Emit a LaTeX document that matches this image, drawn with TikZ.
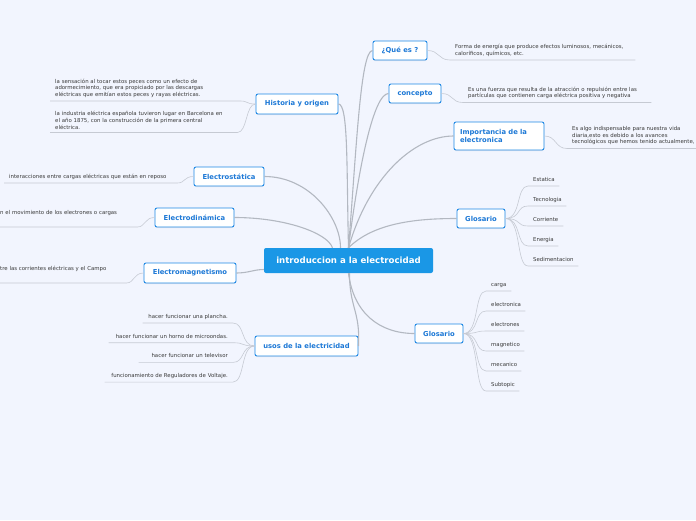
\documentclass[tikz,border=0pt]{standalone}
\usepackage{fontspec}
\setmainfont{DejaVu Sans}
\usetikzlibrary{positioning,shadows}
\definecolor{paper}{HTML}{F2F5FE}
\definecolor{rootblue}{HTML}{1A97E6}
\definecolor{topicblue}{HTML}{1E88E5}
\definecolor{topictext}{HTML}{1C78D6}
\definecolor{leafgray}{HTML}{3A3A3A}
\definecolor{branchgray}{HTML}{B3B8C1}
\definecolor{twiggray}{HTML}{C6CAD3}

\begin{document}
\begin{tikzpicture}[x=1pt, y=-1pt,
  central/.style={fill=rootblue, rounded corners=2pt, text=white,
                  font=\fontsize{8.6}{10}\selectfont\bfseries,
                  minimum width=169pt, minimum height=25pt},
  topic/.style={fill=white, draw=topicblue, line width=0.9pt, rounded corners=2pt,
                text=topictext, font=\fontsize{6.8}{8.2}\selectfont\bfseries,
                minimum height=19pt, inner xsep=6pt,
                drop shadow={opacity=0.12, shadow xshift=0pt, shadow yshift=-1pt}},
  leaf/.style={font=\fontsize{5.4}{6.6}\selectfont, text=leafgray,
               inner xsep=5pt, inner ysep=3.2pt, align=left},
  term/.style={leaf, text height=4.1pt, text depth=1.3pt},
  cutleaf/.style={leaf, text depth=8.8pt},
  branch/.style={draw=branchgray, line width=1.1pt},
  twig/.style={draw=twiggray, line width=0.6pt}
]

\fill[paper] (0,0) rectangle (696,520);
\useasboundingbox (0,0) rectangle (696,520);

% centre and main topics
\node[central] (root) at (348.5,260.5) {introduccion a la electrocidad};

\node[topic, minimum width=54pt] (que) at (400,50.5) {¿Qué es ?};
\node[topic, minimum width=52pt] (concepto) at (415,93.5) {concepto};
\node[topic, text width=78pt, minimum height=28pt, align=left] (importancia) at (499,136) {Importancia de la\\electronica};
\node[topic, minimum width=48pt] (glosarioA) at (481,218.5) {Glosario};
\node[topic, minimum width=48pt] (glosarioB) at (439,333.5) {Glosario};
\node[topic, minimum width=82pt, minimum height=20pt] (historia) at (297,104) {Historia y origen};
\node[topic, minimum width=70pt] (estatica) at (229,176.5) {Electrostática};
\node[topic, minimum width=79pt] (dinamica) at (194.5,217.5) {Electrodinámica};
\node[topic, minimum width=92pt, minimum height=20pt] (magnetismo) at (190,273) {Electromagnetismo};
\node[topic, minimum width=103pt, minimum height=20pt] (usos) at (306.5,346) {usos de la electricidad};

% leaves
\node[leaf, text width=175pt, anchor=south west] (queL) at (450,60)
  {Forma de energía que produce efectos luminosos, mecánicos,\\caloríficos, químicos, etc.};
\node[leaf, text width=178pt, anchor=south west] (conceptoL) at (463,102.5)
  {Es una fuerza que resulta de la atracción o repulsión entre las\\partículas que contienen carga eléctrica positiva y negativa};
\node[leaf, text width=128pt, anchor=south west] (importanciaL) at (567,148.5)
  {Es algo indispensable para nuestra vida\\diaria,esto es debido a los avances\\tecnológicos que hemos tenido actualmente,};
\node[leaf, text width=180pt, anchor=south west] (historiaA) at (50,101)
  {la sensación al tocar estos peces como un efecto de\\adormecimiento, que era propiciado por las descargas\\eléctricas que emitían estos peces y rayas eléctricas.};
\node[leaf, text width=177pt, anchor=south west] (historiaB) at (50,132.5)
  {la industria eléctrica española tuvieron lugar en Barcelona en\\el año 1875, con la construcción de la primera central\\eléctrica.};
\node[leaf, text width=163pt, anchor=south west] (estaticaL) at (4,183)
  {interacciones entre cargas eléctricas que están en reposo};
\node[cutleaf, text width=132pt, anchor=south west] (dinamicaL) at (-5,227)
  {n el movimiento de los electrones o cargas};
\node[cutleaf, text width=121pt, anchor=south west] (magnetismoL) at (-5,283)
  {tre las corrientes eléctricas y el Campo};

% glossary terms
\node[term, text width=21pt, anchor=south west] (estaticaT) at (528,186) {Estatica};
\node[term, text width=28pt, below=7.8pt of estaticaT.south west, anchor=north west] (tecnologiaT) {Tecnologia};
\node[term, text width=25pt, below=7.8pt of tecnologiaT.south west, anchor=north west] (corrienteT) {Corriente};
\node[term, text width=20pt, below=7.8pt of corrienteT.south west, anchor=north west] (energiaT) {Energia};
\node[term, text width=40pt, below=7.8pt of energiaT.south west, anchor=north west] (sedimentT) {Sedimentacion};

\node[term, text width=15pt, anchor=south west] (cargaT) at (486,291) {carga};
\node[term, text width=29pt, below=7.8pt of cargaT.south west, anchor=north west] (electronicaT) {electronica};
\node[term, text width=28pt, below=7.8pt of electronicaT.south west, anchor=north west] (electronesT) {electrones};
\node[term, text width=28pt, below=7.8pt of electronesT.south west, anchor=north west] (magneticoT) {magnetico};
\node[term, text width=25pt, below=7.8pt of magneticoT.south west, anchor=north west] (mecanicoT) {mecanico};
\node[term, text width=23pt, below=7.8pt of mecanicoT.south west, anchor=north west] (subtopicT) {Subtopic};

% uses
\node[term, align=right, text width=80pt, anchor=south east] (usoA) at (233,323) {hacer funcionar una plancha.};
\node[term, align=right, text width=114pt, below=7.5pt of usoA.south east, anchor=north east] (usoB) {hacer funcionar un horno de microondas.};
\node[term, align=right, text width=84pt, below=7.5pt of usoB.south east, anchor=north east] (usoC) {hacer funcionar un televisor};
\node[term, align=right, text width=118pt, below=7.5pt of usoC.south east, anchor=north east] (usoD) {funcionamiento de Reguladores de Voltaje.};

% main branches
\draw[branch] (root.north) .. controls +(8,-100) and +(-12,0) .. (que.west);
\draw[branch] (root.north) .. controls +(10,-80) and +(-15,0) .. (concepto.west);
\draw[branch] (root.north) .. controls +(20,-70) and +(-40,0) .. (importancia.west);
\draw[branch] (root.north) .. controls +(25,-25) and +(-40,0) .. (glosarioA.west);
\draw[branch] (historia.east) .. controls +(10,0) and +(-2,-80) .. (root.north);
\draw[branch] (estatica.east) .. controls +(45,0) and +(0,-30) .. ([xshift=-8pt]root.north);
\draw[branch] (dinamica.east) .. controls +(50,0) and +(-5,-15) .. ([xshift=-16pt]root.north);
\draw[branch] (magnetismo.east) .. controls +(12,0) and +(-10,0) .. ([yshift=-9pt]root.west);
\draw[branch] (usos.east) .. controls +(2,-35) and +(0,35) .. ([xshift=1pt]root.south);
\draw[branch] (root.south) .. controls +(5,40) and +(-35,0) .. (glosarioB.west);

% twigs to the leaves
\draw[twig] (que.east) .. controls +(12,0) and +(-12,0) .. (queL.south west) -- (queL.south east);
\draw[twig] (concepto.east) .. controls +(12,0) and +(-12,0) .. (conceptoL.south west) -- (conceptoL.south east);
\draw[twig] (importancia.east) .. controls +(12,0) and +(-12,0) .. (importanciaL.south west) -- (importanciaL.south east);
\draw[twig] (historia.west) .. controls +(-10,0) and +(8,0) .. (historiaA.south east) -- (historiaA.south west);
\draw[twig] (historia.west) .. controls +(-10,0) and +(10,0) .. (historiaB.south east) -- (historiaB.south west);
\draw[twig] (estatica.west) .. controls +(-10,0) and +(8,0) .. (estaticaL.south east) -- (estaticaL.south west);
\draw[twig] (dinamica.west) .. controls +(-10,0) and +(8,0) .. (dinamicaL.south east) -- (dinamicaL.south west);
\draw[twig] (magnetismo.west) .. controls +(-10,0) and +(8,0) .. (magnetismoL.south east) -- (magnetismoL.south west);

\draw[twig] (glosarioA.east) .. controls +(16,0) and +(-12,0) .. (estaticaT.south west) -- (estaticaT.south east);
\draw[twig] (glosarioA.east) .. controls +(16,0) and +(-12,0) .. (tecnologiaT.south west) -- (tecnologiaT.south east);
\draw[twig] (glosarioA.east) .. controls +(16,0) and +(-12,0) .. (corrienteT.south west) -- (corrienteT.south east);
\draw[twig] (glosarioA.east) .. controls +(16,0) and +(-12,0) .. (energiaT.south west) -- (energiaT.south east);
\draw[twig] (glosarioA.east) .. controls +(16,0) and +(-12,0) .. (sedimentT.south west) -- (sedimentT.south east);

\draw[twig] (glosarioB.east) .. controls +(16,0) and +(-12,0) .. (cargaT.south west) -- (cargaT.south east);
\draw[twig] (glosarioB.east) .. controls +(16,0) and +(-12,0) .. (electronicaT.south west) -- (electronicaT.south east);
\draw[twig] (glosarioB.east) .. controls +(16,0) and +(-12,0) .. (electronesT.south west) -- (electronesT.south east);
\draw[twig] (glosarioB.east) .. controls +(16,0) and +(-12,0) .. (magneticoT.south west) -- (magneticoT.south east);
\draw[twig] (glosarioB.east) .. controls +(16,0) and +(-12,0) .. (mecanicoT.south west) -- (mecanicoT.south east);
\draw[twig] (glosarioB.east) .. controls +(16,0) and +(-12,0) .. (subtopicT.south west) -- (subtopicT.south east);

\draw[twig] (usos.west) .. controls +(-14,0) and +(12,0) .. (usoA.south east) -- (usoA.south west);
\draw[twig] (usos.west) .. controls +(-14,0) and +(12,0) .. (usoB.south east) -- (usoB.south west);
\draw[twig] (usos.west) .. controls +(-14,0) and +(12,0) .. (usoC.south east) -- (usoC.south west);
\draw[twig] (usos.west) .. controls +(-14,0) and +(12,0) .. (usoD.south east) -- (usoD.south west);

\end{tikzpicture}
\end{document}
